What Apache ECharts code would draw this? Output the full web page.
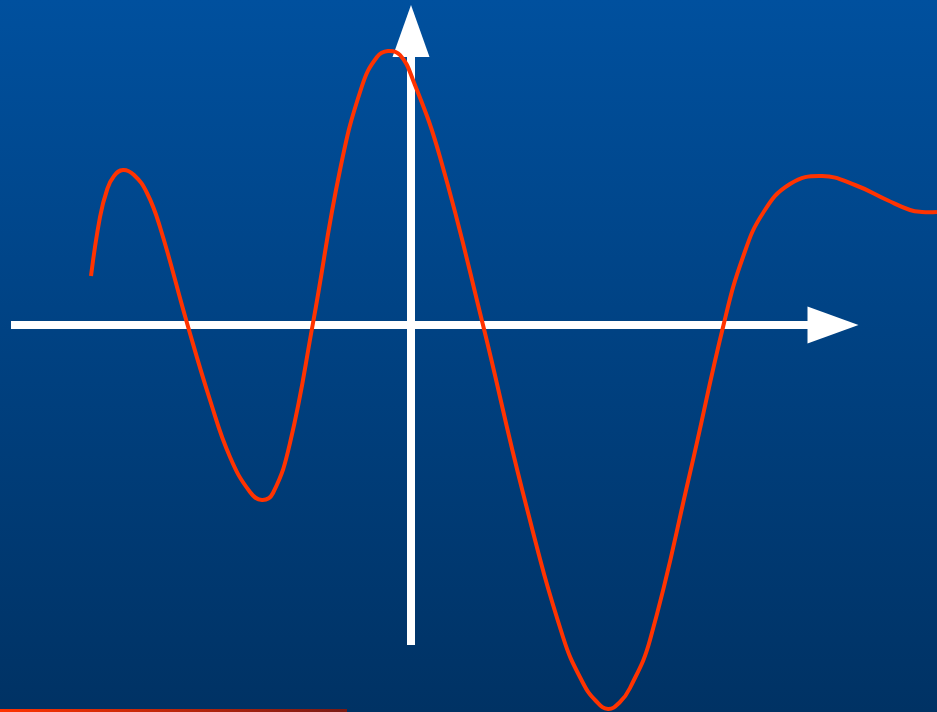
<!DOCTYPE html>
<html>
<head>
<meta charset="utf-8">
<style>
html,body{margin:0;padding:0;background:#003366;}
#chart{width:937px;height:712px;}
</style>
<script src="https://cdn.jsdelivr.net/npm/echarts@6/dist/echarts.min.js"></script>
</head>
<body>
<div id="chart"></div>
<script>
// Curve sample points (x, y) in axis units (origin at the axes crossing)
var curveX = [-3.20,-3.11,-3.04,-2.97,-2.88,-2.77,-2.64,-2.51,-2.24,-2.01,
              -1.81,-1.61,-1.49,-1.38,-1.21,-0.98,-0.71,-0.49,-0.34,-0.23,
              -0.11,0.02,0.29,0.72,1.12,1.52,1.72,1.85,1.97,2.09,
              2.19,2.39,2.79,3.13,3.32,3.52,3.79,4.11,4.44,4.76,
              4.99,5.11,5.26];
var curveY = [0.49,1.08,1.35,1.49,1.55,1.50,1.32,0.98,0.02,-0.75,
              -1.32,-1.67,-1.75,-1.68,-1.18,0.02,1.55,2.39,2.68,2.74,
              2.70,2.45,1.68,0.00,-1.68,-3.12,-3.58,-3.76,-3.84,-3.77,
              -3.63,-3.15,-1.48,0.02,0.68,1.12,1.41,1.49,1.40,1.25,
              1.15,1.13,1.13];
var xRange = [-4.00, 4.22];      // drawn axis extent
var xRangeWide = [-4.00, 5.26];  // full-width extent used by the curve
var yRange = [-3.20, 2.94];

var hiddenAxis = {
  axisLine: {show: false}, axisTick: {show: false},
  axisLabel: {show: false}, splitLine: {show: false}
};
var axisLineStyle = {color: '#ffffff', width: 8, cap: 'butt'};

var chart = echarts.init(document.getElementById('chart'));
chart.setOption({
  animation: false,
  backgroundColor: {
    type: 'linear', x: 0, y: 0, x2: 0, y2: 1,
    colorStops: [{offset: 0, color: '#00509e'}, {offset: 1, color: '#003264'}]
  },
  grid: [
    {left: 11, right: 104, top: 31, bottom: 67, containLabel: false},
    {left: 11, right: 0, top: 31, bottom: 67, containLabel: false}
  ],
  xAxis: [
    {
      type: 'value', gridIndex: 0, min: xRange[0], max: xRange[1],
      axisLine: {show: true, onZero: true, lineStyle: axisLineStyle,
        symbol: ['none', 'triangle'], symbolSize: [37, 51]},
      axisTick: {show: false}, axisLabel: {show: false}, splitLine: {show: false}
    },
    Object.assign({type: 'value', gridIndex: 1, min: xRangeWide[0], max: xRangeWide[1]}, hiddenAxis)
  ],
  yAxis: [
    {
      type: 'value', gridIndex: 0, min: yRange[0], max: yRange[1],
      axisLine: {show: true, onZero: true, lineStyle: axisLineStyle,
        symbol: ['none', 'triangle'], symbolSize: [37, 52]},
      axisTick: {show: false}, axisLabel: {show: false}, splitLine: {show: false}
    },
    Object.assign({type: 'value', gridIndex: 1, min: yRange[0], max: yRange[1]}, hiddenAxis)
  ],
  graphic: [{
    type: 'rect', left: 0, bottom: 0, z: 10,
    shape: {width: 347, height: 3},
    style: {fill: {type: 'linear', x: 0, y: 0, x2: 1, y2: 0,
      colorStops: [{offset: 0, color: '#ff3300'}, {offset: 1, color: '#7a1a14'}]}}
  }],
  series: [{
    type: 'custom', coordinateSystem: 'cartesian2d', xAxisIndex: 1, yAxisIndex: 1,
    clip: false, z: 5,
    data: [[curveX[0], curveY[0]]],
    renderItem: function (params, api) {
      var pts = curveX.map(function (x, i) { return api.coord([x, curveY[i]]); });
      return {
        type: 'polyline',
        shape: {points: pts, smooth: 0.45},
        style: {stroke: '#ff3300', lineWidth: 4, fill: null, lineJoin: 'round'}
      };
    }
  }]
});
</script>
</body>
</html>
